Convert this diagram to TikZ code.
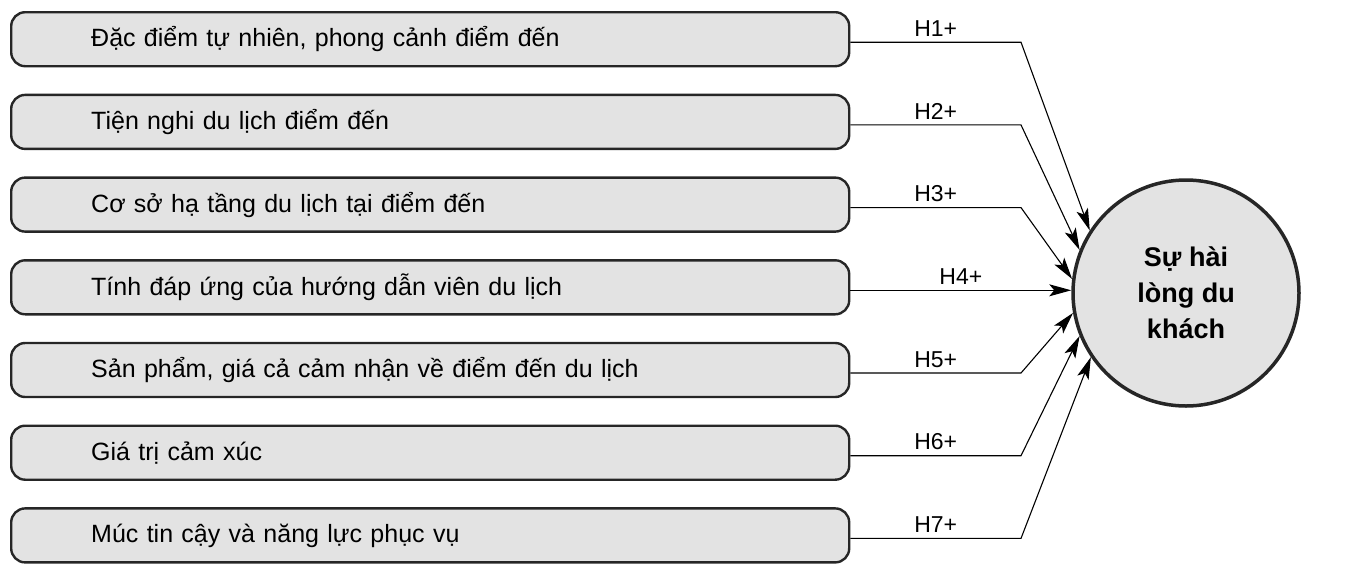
\documentclass[tikz,border=0pt]{standalone}
\usepackage{fontspec}
\setmainfont{Liberation Sans}
\usepackage{xcolor}
\usepackage{tikz}
\usetikzlibrary{positioning,arrows.meta}

\begin{document}
\begin{tikzpicture}[x=1pt,y=-1pt,node distance=26.3pt,
factor/.style={rectangle,rounded corners=14pt,draw=black!85,fill=black!11,line width=2.4pt,
inner xsep=80pt,inner ysep=0pt,text width=678pt,align=left,minimum height=54pt,
font=\fontsize{25}{30}\selectfont},
target/.style={circle,draw=black!85,fill=black!11,line width=3.5pt,
inner sep=0pt,minimum size=226pt,align=center,
font=\fontsize{27}{36}\selectfont\bfseries},
hypo/.style={->,>={Stealth[length=22pt,width=12pt,inset=5pt]},line width=1.1pt},
hlabel/.style={above,inner sep=5pt,font=\fontsize{23}{26}\selectfont}]
    \useasboundingbox (0,0) rectangle (1347,571);
    \node[factor,anchor=north west] (Node f1) at (10,11) {Đặc điểm tự nhiên, phong cảnh điểm đến};
    \node[factor] (Node f2) [below=of Node f1] {Tiện nghi du lịch điểm đến};
    \node[factor] (Node f3) [below=of Node f2] {Cơ sở hạ tầng du lịch tại điểm đến};
    \node[factor] (Node f4) [below=of Node f3] {Tính đáp ứng của hướng dẫn viên du lịch};
    \node[factor] (Node f5) [below=of Node f4] {Sản phẩm, giá cả cảm nhận về điểm đến du lịch};
    \node[factor] (Node f6) [below=of Node f5] {Giá trị cảm xúc};
    \node[factor] (Node f7) [below=of Node f6] {Múc tin cậy và năng lực phục vụ};
    \node[target] (my sat) at (1186,293) {Sự hài\\lòng du\\khách};
    % where the lines turn
    \coordinate (bend x) at (1021,0);
    \draw [hypo] ([yshift=-3pt]Node f1.east) -- node[hlabel] {H1+} ([yshift=-3pt]Node f1.east -| bend x) -- (my sat.147);
    \draw [hypo] ([yshift=-3pt]Node f2.east) -- node[hlabel] {H2+} ([yshift=-3pt]Node f2.east -| bend x) -- (my sat.158);
    \draw [hypo] ([yshift=-3pt]Node f3.east) -- node[hlabel] {H3+} ([yshift=-3pt]Node f3.east -| bend x) -- (my sat.173);
    \draw [hypo] ([yshift=-3pt]Node f4.east) -- node[hlabel] {H4+} ([yshift=-3pt]Node f4.east -| my sat.west);
    \draw [hypo] ([yshift=-3pt]Node f5.east) -- node[hlabel] {H5+} ([yshift=-3pt]Node f5.east -| bend x) -- (my sat.190);
    \draw [hypo] ([yshift=-3pt]Node f6.east) -- node[hlabel] {H6+} ([yshift=-3pt]Node f6.east -| bend x) -- (my sat.202);
    \draw [hypo] ([yshift=-3pt]Node f7.east) -- node[hlabel] {H7+} ([yshift=-3pt]Node f7.east -| bend x) -- (my sat.214);
\end{tikzpicture}
\end{document}
